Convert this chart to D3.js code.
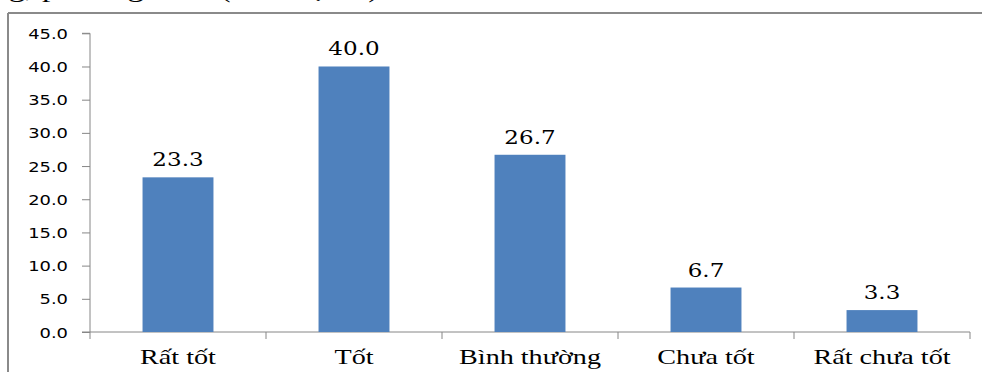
<!DOCTYPE html>
<html><head><meta charset="utf-8">
<script src="https://cdn.jsdelivr.net/npm/d3@7"></script>
<style>
html,body{margin:0;padding:0;background:#fff;}
svg{display:block;}
</style></head>
<body>
<svg id="c" width="982" height="372"></svg>
<script>
const categories = ["Rất tốt", "Tốt", "Bình thường", "Chưa tốt", "Rất chưa tốt"];
const values = [23.3, 40.0, 26.7, 6.7, 3.3];
const yTicks = [0, 5, 10, 15, 20, 25, 30, 35, 40, 45];
const titleText = "ng, phương thức (Đơn vị: %)";

const SX = 1.28; // horizontal stretch of text seen in the reference
const svg = d3.select("#c");
const W = 982, H = 372;
const x0 = 90, x1 = 970, yBase = 332, yTop = 33.3;

// frame
svg.append("line").attr("x1", 8).attr("x2", 8).attr("y1", 13).attr("y2", H)
  .attr("stroke", "#8a8a8a").attr("stroke-width", 2);
svg.append("line").attr("x1", 8).attr("x2", W).attr("y1", 13).attr("y2", 13)
  .attr("stroke", "#8a8a8a").attr("stroke-width", 2);

// clipped title line (only its descenders show in the reference)
svg.append("text").attr("transform", `translate(-8,-3.5) scale(${SX},1)`)
  .attr("font-family", "Liberation Serif").attr("font-size", 26).attr("fill", "#000")
  .text(titleText);

const x = d3.scaleBand().domain(categories).range([x0, x1]).paddingInner(0).paddingOuter(0);
const y = d3.scaleLinear().domain([0, 45]).range([yBase, yTop]);

// y axis
const ya = svg.append("g").attr("transform", `translate(${x0},0)`)
  .call(d3.axisLeft(y).tickValues(yTicks).tickSize(8).tickFormat(d3.format(".1f")));
ya.select(".domain").attr("stroke", "#868686").attr("d", `M-8,${yTop}H0V${yBase}`);
ya.selectAll(".tick line").attr("stroke", "#868686");
ya.selectAll(".tick text")
  .attr("x", -22 / SX).attr("dy", "0.36em")
  .attr("transform", `scale(${SX},1)`)
  .attr("font-family", "DejaVu Sans").attr("font-size", 14).attr("fill", "#000");

// x axis
const xa = svg.append("g").attr("transform", `translate(0,${yBase})`);
xa.append("line").attr("x1", x0 - 8).attr("x2", x1).attr("y1", 0).attr("y2", 0)
  .attr("stroke", "#868686");
const edges = categories.map(c => x(c)).concat([x1]);
xa.selectAll("line.tk").data(edges).join("line").attr("class", "tk")
  .attr("x1", d => d).attr("x2", d => d).attr("y1", 0).attr("y2", 7)
  .attr("stroke", "#868686");
xa.selectAll("text.cat").data(categories).join("text").attr("class", "cat")
  .attr("transform", d => `translate(${x(d) + x.bandwidth() / 2},32) scale(${SX},1)`)
  .attr("text-anchor", "middle")
  .attr("font-family", "Liberation Serif").attr("font-size", 22).attr("fill", "#000")
  .text(d => d);

// bars
const bw = x.bandwidth() * 0.403;
svg.selectAll("rect.bar").data(values).join("rect").attr("class", "bar")
  .attr("x", (d, i) => x(categories[i]) + (x.bandwidth() - bw) / 2)
  .attr("width", bw)
  .attr("y", d => y(d))
  .attr("height", d => yBase - y(d))
  .attr("fill", "#4F81BD");

// value labels
svg.selectAll("text.val").data(values).join("text").attr("class", "val")
  .attr("transform", (d, i) => `translate(${x(categories[i]) + x.bandwidth() / 2},${y(d) - 11}) scale(${SX},1)`)
  .attr("text-anchor", "middle")
  .attr("font-family", "DejaVu Serif").attr("font-size", 18).attr("fill", "#000")
  .text(d => d.toFixed(1));
</script>
</body></html>
